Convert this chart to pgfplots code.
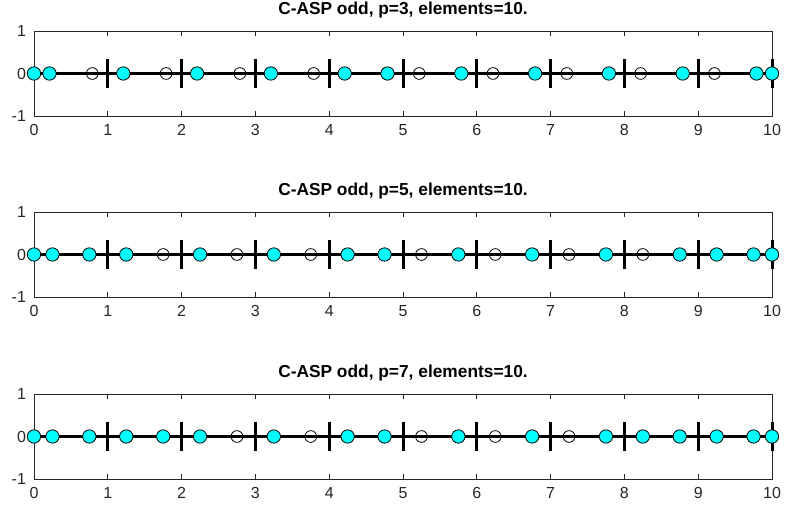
\documentclass[border=0pt]{standalone}
\usepackage{pgfplots}
\pgfplotsset{compat=1.18}
\usepackage{fontspec}
\setmainfont{Liberation Sans}
\definecolor{axgray}{RGB}{38,38,38}
\definecolor{mcyan}{RGB}{0,255,255}
\pgfplotsset{
 panel/.style={
  scale only axis, width=553.5pt, height=63.75pt,
  xmin=0,xmax=10,ymin=-1,ymax=1,
  xtick={0,1,...,10}, ytick={-1,0,1},
  tick align=inside, major tick length=3.75pt,
  axis line style={axgray, line width=0.6pt},
  every tick/.style={axgray, line width=0.6pt},
  ticklabel style={font=\fontsize{12}{14}\selectfont, text=axgray},
  xticklabel style={yshift=-2.5pt},
  yticklabel style={xshift=-2.5pt},
  /pgf/number format/assume math mode=true,
  title style={font=\bfseries\fontsize{13}{15}\selectfont, at={(0.5,1)}, anchor=base, yshift=6.2pt},
  clip=false, anchor=south west,
  unbounded coords=jump,
 },
 hline/.style={black, line width=2.25pt, no marks},
 vlines/.style={black, line width=2.25pt, no marks},
 cyanm/.style={only marks, mark=*, mark size=5pt, mark options={fill=mcyan, draw=black, line width=0.6pt}},
 openm/.style={only marks, mark=o, mark size=4.4pt, mark options={draw=black, line width=0.6pt}},
}
\begin{document}
\begin{tikzpicture}
\path[use as bounding box] (0,0) rectangle (588.75pt,382.5pt);
% Panel 1
\begin{axis}[panel, at={(25.5pt,295.5pt)}, title={C-ASP odd, p=3, elements=10.}]
\addplot[hline] coordinates {(0,0) (10,0)};
\addplot[vlines] coordinates {(1,-0.33) (1,0.33) (1,nan) (2,-0.33) (2,0.33) (2,nan) (3,-0.33) (3,0.33) (3,nan) (4,-0.33) (4,0.33) (4,nan) (5,-0.33) (5,0.33) (5,nan) (6,-0.33) (6,0.33) (6,nan) (7,-0.33) (7,0.33) (7,nan) (8,-0.33) (8,0.33) (8,nan) (9,-0.33) (9,0.33) (9,nan) (10,-0.33) (10,0.33)};
\addplot[openm] coordinates {(0.79,0) (1.79,0) (2.79,0) (3.79,0) (5.22,0) (6.22,0) (7.22,0) (8.22,0) (9.22,0)};
\addplot[cyanm] coordinates {(0,0) (0.21,0) (1.21,0) (2.21,0) (3.21,0) (4.21,0) (4.79,0) (5.79,0) (6.79,0) (7.79,0) (8.79,0) (9.79,0) (10,0)};
\end{axis}
% Panel 2
\begin{axis}[panel, at={(25.5pt,159.75pt)}, title={C-ASP odd, p=5, elements=10.}]
\addplot[hline] coordinates {(0,0) (10,0)};
\addplot[vlines] coordinates {(1,-0.33) (1,0.33) (1,nan) (2,-0.33) (2,0.33) (2,nan) (3,-0.33) (3,0.33) (3,nan) (4,-0.33) (4,0.33) (4,nan) (5,-0.33) (5,0.33) (5,nan) (6,-0.33) (6,0.33) (6,nan) (7,-0.33) (7,0.33) (7,nan) (8,-0.33) (8,0.33) (8,nan) (9,-0.33) (9,0.33) (9,nan) (10,-0.33) (10,0.33)};
\addplot[openm] coordinates {(1.75,0) (2.75,0) (3.75,0) (5.25,0) (6.25,0) (7.25,0) (8.25,0)};
\addplot[cyanm] coordinates {(0,0) (0.25,0) (0.75,0) (1.25,0) (2.25,0) (3.25,0) (4.25,0) (4.75,0) (5.75,0) (6.75,0) (7.75,0) (8.75,0) (9.25,0) (9.75,0) (10,0)};
\end{axis}
% Panel 3
\begin{axis}[panel, at={(25.5pt,23.25pt)}, title={C-ASP odd, p=7, elements=10.}]
\addplot[hline] coordinates {(0,0) (10,0)};
\addplot[vlines] coordinates {(1,-0.33) (1,0.33) (1,nan) (2,-0.33) (2,0.33) (2,nan) (3,-0.33) (3,0.33) (3,nan) (4,-0.33) (4,0.33) (4,nan) (5,-0.33) (5,0.33) (5,nan) (6,-0.33) (6,0.33) (6,nan) (7,-0.33) (7,0.33) (7,nan) (8,-0.33) (8,0.33) (8,nan) (9,-0.33) (9,0.33) (9,nan) (10,-0.33) (10,0.33)};
\addplot[openm] coordinates {(2.75,0) (3.75,0) (5.25,0) (6.25,0) (7.25,0)};
\addplot[cyanm] coordinates {(0,0) (0.25,0) (0.75,0) (1.25,0) (1.75,0) (2.25,0) (3.25,0) (4.25,0) (4.75,0) (5.75,0) (6.75,0) (7.75,0) (8.25,0) (8.75,0) (9.25,0) (9.75,0) (10,0)};
\end{axis}
\end{tikzpicture}
\end{document}
